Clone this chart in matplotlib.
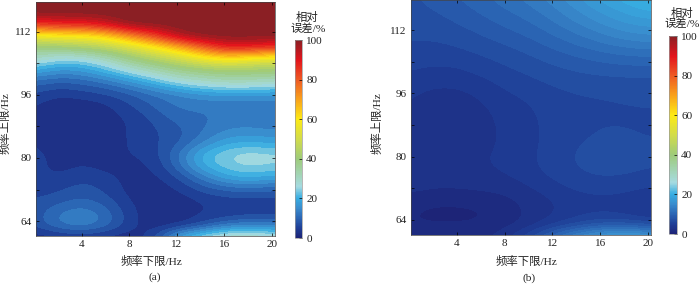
import matplotlib
matplotlib.use('Agg')
import matplotlib.pyplot as plt
from matplotlib.colors import LinearSegmentedColormap, Normalize
from matplotlib.cm import ScalarMappable

plt.rcParams['font.family'] = ['Liberation Serif', 'Noto Sans CJK SC']

W, H = 700, 284

# grid: lower limit 0, 2, ... 20 Hz across, upper limit 60, 63, ... 120 Hz upward
err_a = [
    [3, 4, 5, 4, 3, 6, 20, 27, 32, 33, 30],
    [8, 13, 15, 12, 6, 3, 4, 7, 12, 14, 13],
    [8, 13, 15, 12, 6, 3, 3, 5, 5, 6, 6],
    [8, 9, 11, 9, 5, 3, 3, 5, 6, 6, 6],
    [6, 7, 9, 7, 4, 3, 5, 8, 10, 11, 10],
    [6, 5, 7, 6, 4, 4, 7, 13, 19, 21, 19],
    [6, 4, 5, 4, 4, 5, 11, 20, 24, 26, 25],
    [6, 4, 5, 4, 5, 6, 12, 21, 25, 27, 26],
    [5, 3, 3, 4, 5, 7, 9, 14, 19, 20, 19],
    [5, 3, 3, 4, 5, 7, 9, 12, 15, 16, 15],
    [5, 3, 3, 4, 5, 8, 11, 12, 13, 13, 12],
    [5, 3, 3, 4, 7, 10, 13, 13, 13, 12, 13],
    [7, 5, 6, 7, 9, 12, 14, 16, 17, 17, 17],
    [11, 9, 10, 12, 16, 20, 25, 28, 30, 30, 28],
    [19, 16, 17, 21, 26, 31, 36, 38, 40, 40, 40],
    [30, 25, 25, 30, 38, 43, 48, 54, 58, 55, 52],
    [38, 40, 42, 45, 50, 57, 65, 76, 88, 87, 85],
    [55, 58, 58, 62, 72, 82, 95, 100, 100, 100, 100],
    [85, 88, 88, 92, 100, 100, 100, 100, 100, 100, 100],
    [100, 100, 100, 100, 100, 100, 100, 100, 100, 100, 100],
    [100, 100, 100, 100, 100, 100, 100, 100, 100, 100, 100],
]
err_b = [
    [1.5, 2, 2, 2.5, 3.5, 6.5, 11, 15, 18, 19, 18],
    [1.5, 1.5, 1.5, 1.5, 2.2, 3.2, 5, 6.5, 8, 8, 7],
    [1.5, 1, 1, 1.2, 2, 3, 4, 5, 5.3, 5, 4],
    [2.2, 1.8, 1.8, 2, 2.4, 3.2, 4.2, 5, 5.3, 5, 4.3],
    [3.2, 2.8, 2.8, 3, 3.2, 4, 5, 5.8, 6, 6, 5.5],
    [4, 3.5, 3.6, 3.8, 4, 4.8, 5.8, 6.5, 7, 6.8, 6.3],
    [4.2, 3.8, 4, 4, 4.4, 5.2, 6.2, 7, 7.8, 7.8, 7.2],
    [4.2, 3.6, 3.8, 4, 4.4, 5.2, 6.2, 7, 7.8, 7.8, 7.3],
    [4, 3.2, 3.2, 3.7, 4.4, 5.2, 6, 6.8, 7.2, 7.2, 7],
    [4, 3, 3, 3.7, 4.4, 5.2, 6, 6.6, 7, 7, 6.8],
    [4, 3, 3, 3.8, 4.5, 5.3, 6, 6.5, 6.8, 6.8, 6.8],
    [4.2, 3.2, 3.2, 4, 4.8, 5.5, 6.2, 6.6, 6.8, 6.9, 7],
    [4.5, 3.8, 3.8, 4.5, 5.4, 6, 6.6, 7, 7.1, 7.2, 7.3],
    [5, 4.6, 4.6, 5.2, 6, 6.6, 7.2, 7.6, 7.8, 7.9, 8],
    [5.7, 5.3, 5.4, 6, 6.7, 7.3, 8, 8.5, 8.9, 9.1, 9.2],
    [6.3, 6, 6.2, 6.8, 7.4, 8.1, 8.9, 9.6, 10.2, 10.7, 10.9],
    [6.8, 6.7, 7, 7.6, 8.2, 9, 10, 11, 12, 12.8, 13.2],
    [7.2, 7.2, 7.7, 8.4, 9.2, 10, 11.2, 12.5, 13.8, 15, 15.5],
    [7.5, 7.8, 8.4, 9.2, 10.1, 11, 12.4, 14, 15.5, 16.8, 17.5],
    [7.8, 8.3, 9, 10, 11, 12, 13.5, 15.2, 17, 18.5, 19.8],
    [8, 8.8, 9.7, 10.7, 11.8, 13, 14.5, 16.5, 18.5, 20.2, 21.5],
]

x_ticks = [4, 8, 12, 16, 20]
y_ticks = [64, 72, 80, 88, 96, 104, 112]
y_labels = ['64', '', '80', '', '96', '', '112']
cbar_ticks = [0, 20, 40, 60, 80, 100]

cmap = LinearSegmentedColormap.from_list('err', [
    (0.00, '#1d2477'), (0.05, '#1f3f97'), (0.10, '#2b66b4'), (0.15, '#3a8ccd'),
    (0.20, '#37ade2'), (0.26, '#a6dbe0'), (0.40, '#9ecb7a'), (0.50, '#d2dc4a'),
    (0.60, '#fdea14'), (0.70, '#f9a21b'), (0.80, '#ee5a24'), (0.90, '#e3141c'),
    (1.00, '#8b1f24'),
])
norm = Normalize(0, 100)


def px_axes(fig, left, top, right, bottom):
    return fig.add_axes([left / W, 1 - bottom / H, (right - left) / W, (bottom - top) / H])


def px_text(fig, x, y, s, **kw):
    kw.setdefault('ha', 'center')
    kw.setdefault('va', 'center')
    kw.setdefault('fontsize', 8.2)
    kw.setdefault('color', '#222222')
    fig.text(x / W, 1 - y / H, s, **kw)


def panel(fig, err, steps, box, cbox, name, texts):
    ax = px_axes(fig, *box)
    ax.imshow(err, origin='lower', extent=(-1, 21, 58.5, 121.5), aspect='auto',
              cmap=cmap.resampled(steps), norm=norm, interpolation='bicubic',
              interpolation_stage='data')
    ax.set_xlim(0.15, 20.25)
    ax.set_ylim(60.2, 119.6)
    ax.set_xticks(x_ticks)
    ax.set_yticks(y_ticks)
    ax.set_yticklabels(y_labels)
    ax.tick_params(direction='in', top=True, right=True, length=2, width=0.5,
                   labelsize=8, pad=3, labelcolor='#222222')
    for s in ax.spines.values():
        s.set_linewidth(0.5)
        s.set_color('#444444')

    cax = px_axes(fig, *cbox)
    cb = fig.colorbar(ScalarMappable(norm, cmap), cax=cax)
    cb.set_ticks(cbar_ticks)
    cb.ax.tick_params(direction='in', length=2, width=0.5, labelsize=8, pad=3,
                      labelcolor='#222222')
    cb.outline.set_linewidth(0.5)
    cb.outline.set_edgecolor('#999999')

    px_text(fig, texts['xl'][0], texts['xl'][1], '频率下限/Hz')
    px_text(fig, texts['yl'][0], texts['yl'][1], '频率上限/Hz', rotation=90)
    px_text(fig, texts['name'][0], texts['name'][1], name)
    px_text(fig, texts['t1'][0], texts['t1'][1], '相对')
    px_text(fig, texts['t2'][0], texts['t2'][1], '误差/%')


fig = plt.figure(figsize=(W / 100, H / 100), dpi=100)
panel(fig, err_a, 40, (36, 2, 275, 236), (295, 40, 302, 238), '(a)',
      {'xl': (151, 262), 'yl': (5, 123), 'name': (155, 277), 't1': (307, 17), 't2': (308, 29)})
panel(fig, err_b, 72, (411, 0, 651, 235), (669, 36, 677, 234), '(b)',
      {'xl': (526, 261), 'yl': (377, 123), 'name': (529, 278), 't1': (682, 13), 't2': (682, 24)})
fig.savefig('out.png', dpi=100)
